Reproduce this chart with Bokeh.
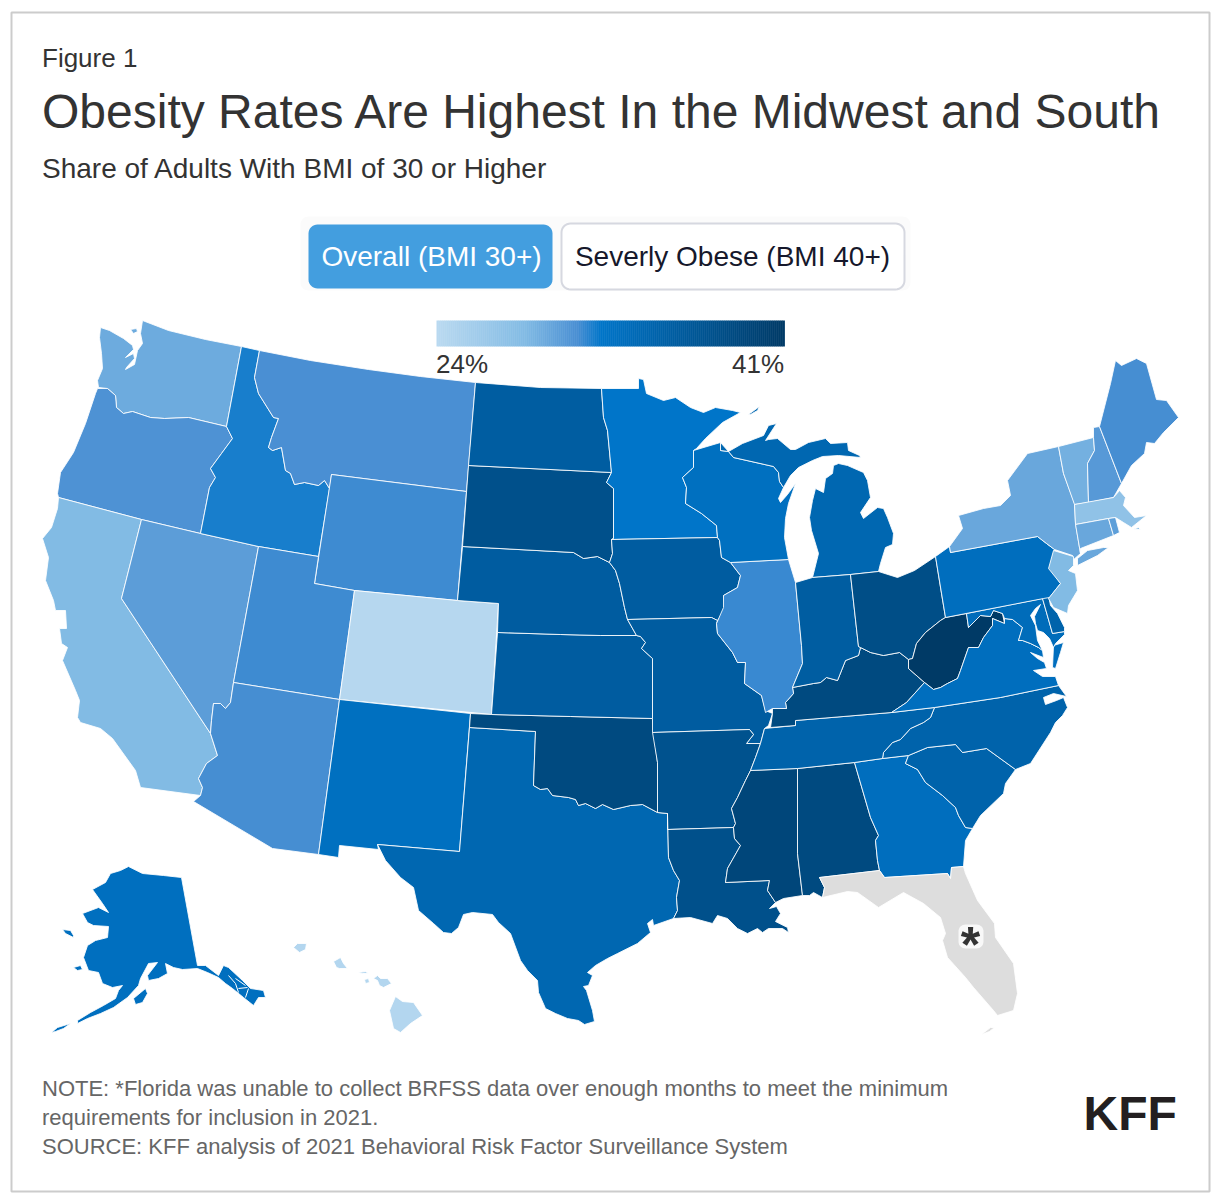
import numpy as np
from bokeh.core.properties import value
from bokeh.embed import file_html
from bokeh.models import ColumnDataSource, LinearColorMapper
from bokeh.plotting import figure
from bokeh.resources import INLINE

STATES = ["WA","OR","CA","NV","ID","MT","WY","UT","CO","AZ","NM","TX","OK","KS","NE","SD","ND","MN","IA","MO","AR","LA","MS","AL","GA","FL","SC","NC","TN","KY","IL","WI","MI","IN","OH","WV","VA","MD","DE","PA","NY","VT","NH","ME","MA","CT","RI","NJ","AK","HI"]
RATES = [29.2,30.6,28.3,30.0,31.6,30.8,31.0,31.0,24.3,30.9,32.8,34.2,38.6,35.7,35.7,37.6,35.6,32.0,35.7,35.7,37.4,37.6,39.2,38.6,33.0,None,34.7,34.7,34.7,38.6,31.1,32.8,34.2,35.6,38.0,41.0,33.0,33.4,34.7,33.0,29.4,28.9,30.2,30.9,27.2,29.4,29.9,28.3,32.9,24.5]
LEGEND_MIN, LEGEND_MAX = 24, 41
LEGEND_LABELS = ["24%", "41%"]
BUTTONS = ["Overall (BMI 30+)", "Severly Obese (BMI 40+)"]
FIGURE_LABEL = "Figure 1"
TITLE = "Obesity Rates Are Highest In the Midwest and South"
SUBTITLE = "Share of Adults With BMI of 30 or Higher"
NOTES = ["NOTE: *Florida was unable to collect BRFSS data over enough months to meet the minimum",
         "requirements for inclusion in 2021.",
         "SOURCE: KFF analysis of 2021 Behavioral Risk Factor Surveillance System"]
GRADIENT_STOPS = [(0.0,"#b9d9f0"),(0.25,"#82bbe4"),(0.40,"#4a8fd3"),(0.47,"#0075c9"),(1.0,"#003a66")]

SHAPES = {
"WA":[[(142,320),(168,330),(205,339),(241,346),(226,426),(188,417),(164,418),(150,417),(132,411),(123,413),(116,407),(115,395),(107,388),(98,387),(97,380),(102,368),(101,353),(99,337),(100,327),(109,330),(123,338),(132,345),(133,349),(125,357),(133,353),(134,358),(126,367),(125,369),(134,364),(137,350),(142,343),(140,333)],[(130,329),(136,328),(137,331),(133,333)]],
"OR":[[(97,388),(107,388),(115,395),(116,407),(123,413),(132,411),(150,417),(164,418),(188,417),(226,426),(232,438),(221,453),(210,468),(215,477),(209,487),(200,533),(141,519),(58,497),(57,493),(60,472),(73,452),(85,423),(95,393)]],
"CA":[[(58,497),(141,519),(121,598),(210,733),(217,755),(206,763),(198,778),(202,787),(200,795),(140,787),(135,770),(112,738),(100,728),(80,722),(77,717),(79,700),(75,690),(62,660),(67,647),(61,643),(59,628),(66,628),(65,610),(55,610),(53,600),(45,580),(48,557),(42,538),(51,527),(57,508)]],
"NV":[[(141,519),(200,533),(258,546),(233,682),(230,702),(225,708),(220,703),(213,703),(211,720),(210,733),(121,598)]],
"ID":[[(241,346),(259,350),(254,377),(258,393),(273,417),(278,418),(271,437),(268,447),(272,450),(281,447),(285,470),(290,473),(294,484),(304,482),(318,485),(324,480),(329,488),(318,556),(258,546),(200,533),(209,487),(215,477),(210,468),(221,453),(232,438),(226,426)]],
"MT":[[(259,350),(310,360),(368,369),(420,376),(475,382),(466,491),(331,474),(329,488),(324,480),(318,485),(304,482),(294,484),(290,473),(285,470),(281,447),(272,450),(268,447),(271,437),(278,418),(273,417),(258,393),(254,377)]],
"WY":[[(331,474),(466,491),(457,600),(354,590),(314,583)]],
"UT":[[(258,546),(318,556),(314,583),(354,590),(339,699),(233,682)]],
"CO":[[(354,590),(457,600),(498,603),(491,714),(339,699)]],
"AZ":[[(233,682),(339,699),(318,854),(272,848),(193,801),(200,795),(202,787),(198,778),(206,763),(217,755),(210,733),(211,720),(213,703),(220,703),(225,708),(230,702)]],
"NM":[[(339,699),(470,713),(459,851),(377,844),(378,849),(339,845),(338,857),(318,854)]],
"TX":[[(469,727),(535,731),(533,785),(540,789),(547,788),(552,795),(568,797),(575,799),(578,805),(585,803),(595,808),(602,804),(613,809),(630,805),(642,804),(657,812),(667,813),(668,857),(673,870),(679,880),(676,897),(677,910),(673,918),(653,925),(652,919),(647,923),(650,932),(637,943),(617,953),(607,958),(595,965),(587,972),(592,975),(588,985),(583,986),(586,990),(592,1010),(594,1021),(584,1024),(578,1020),(567,1018),(555,1013),(545,1008),(538,992),(537,980),(527,970),(520,960),(510,933),(498,922),(492,914),(472,912),(463,914),(458,927),(451,933),(443,932),(433,923),(418,910),(413,887),(400,877),(385,860),(377,844),(459,851)]],
"OK":[[(470,713),(491,714),(570,716),(652,718),(653,732),(657,762),(657,812),(642,804),(630,805),(613,809),(602,804),(595,808),(585,803),(578,805),(575,799),(568,797),(552,795),(547,788),(540,789),(533,785),(535,731),(469,727)]],
"KS":[[(497,632),(560,634),(600,635),(636,635),(640,636),(645,642),(641,648),(652,658),(652,718),(570,716),(491,714)]],
"NE":[[(462,546),(573,552),(583,558),(597,556),(609,562),(615,570),(619,583),(624,607),(627,619),(636,635),(600,635),(560,634),(497,632),(498,603),(457,600)]],
"SD":[[(468,465),(611,472),(606,482),(613,488),(613,538),(611,539),(612,553),(609,562),(597,556),(583,558),(573,552),(462,546)]],
"ND":[[(475,382),(540,387),(601,388),(603,417),(607,430),(611,472),(468,465)]],
"MN":[[(601,388),(638,388),(638,378),(643,379),(646,393),(663,400),(675,397),(690,407),(703,412),(715,407),(732,410),(740,412),(722,422),(705,438),(696,448),(693,450),(693,467),(682,477),(686,487),(685,503),(701,513),(716,525),(717,537),(611,539),(613,538),(613,488),(606,482),(611,472),(607,430),(603,417)]],
"IA":[[(611,539),(717,537),(719,540),(721,557),(730,562),(740,575),(737,587),(723,595),(725,608),(717,620),(711,617),(627,619),(624,607),(619,583),(615,570),(609,562),(612,553)]],
"MO":[[(627,619),(711,617),(717,620),(716,623),(717,633),(732,652),(737,662),(745,662),(744,683),(761,695),(765,710),(772,713),(768,725),(764,728),(760,743),(746,743),(753,734),(749,729),(652,732),(652,718),(652,658),(641,648),(645,642),(640,636),(636,635)]],
"AR":[[(652,732),(749,729),(753,734),(746,743),(760,743),(755,757),(750,770),(745,780),(737,797),(731,808),(735,823),(733,827),(667,829),(667,813),(657,812),(657,762)]],
"LA":[[(667,829),(733,827),(734,838),(740,845),(727,868),(725,882),(769,880),(767,890),(775,902),(769,908),(776,906),(780,913),(775,921),(787,927),(788,932),(782,928),(768,928),(762,932),(757,928),(747,933),(737,928),(727,918),(717,915),(712,923),(690,917),(673,918),(677,910),(676,897),(679,880),(673,870),(668,857),(667,813)]],
"MS":[[(750,770),(797,768),(797,853),(802,895),(783,898),(775,902),(767,890),(769,880),(725,882),(727,868),(740,845),(734,838),(733,827),(735,823),(731,808),(737,797),(745,780)]],
"AL":[[(797,768),(854,762),(870,817),(878,835),(875,840),(877,860),(879,870),(819,877),(824,887),(822,897),(813,892),(809,895),(802,895),(797,853)]],
"GA":[[(854,762),(882,758),(908,755),(905,763),(917,769),(925,782),(942,795),(955,807),(958,815),(965,827),(972,828),(965,840),(963,866),(951,867),(950,878),(947,873),(884,877),(879,870),(877,860),(875,840),(878,835),(870,817)]],
"FL":[[(819,877),(879,870),(884,877),(947,873),(950,878),(951,867),(963,866),(965,873),(977,900),(994,923),(995,937),(1013,963),(1017,993),(1013,1010),(997,1015),(993,1010),(973,987),(965,977),(947,957),(942,940),(945,933),(940,917),(923,903),(903,892),(878,907),(857,892),(847,891),(822,897),(824,887)],[(981,1034),(990,1027),(994,1027),(989,1031)]],
"SC":[[(905,763),(908,755),(927,747),(955,744),(962,752),(986,748),(1015,769),(1005,783),(1003,793),(980,815),(972,828),(965,827),(958,815),(955,807),(942,795),(925,782),(917,769)]],
"NC":[[(934,707),(1000,697),(1058,685),(1066,696),(1053,693),(1043,697),(1045,704),(1056,700),(1063,697),(1067,707),(1062,715),(1055,722),(1050,732),(1030,763),(1015,769),(986,748),(962,752),(955,744),(927,747),(908,755),(882,758),(883,752),(892,742),(900,739),(910,728),(923,722),(930,717)]],
"TN":[[(764,728),(795,725),(795,720),(891,712),(934,707),(930,717),(923,722),(910,728),(900,739),(892,742),(883,752),(882,758),(854,762),(797,768),(750,770),(755,757),(760,743)]],
"KY":[[(772,713),(772,708),(786,708),(785,702),(793,693),(792,687),(813,683),(820,682),(826,677),(837,680),(845,660),(858,655),(860,647),(870,652),(883,655),(899,652),(908,659),(908,668),(924,682),(906,702),(891,712),(795,720),(795,725),(770,727)]],
"IL":[[(730,562),(788,559),(795,582),(801,645),(802,663),(792,687),(793,693),(785,702),(786,708),(772,708),(765,712),(761,695),(744,683),(745,662),(737,662),(732,652),(717,633),(716,623),(723,607),(723,595),(737,587),(740,575)]],
"WI":[[(693,450),(720,442),(720,450),(728,451),(733,457),(773,466),(778,472),(779,481),(783,487),(778,498),(780,502),(787,494),(795,483),(788,503),(785,518),(784,537),(788,559),(730,562),(721,557),(719,540),(717,537),(716,525),(701,513),(685,503),(686,487),(682,477),(693,467)]],
"MI":[[(720,442),(720,450),(728,451),(742,443),(763,435),(768,425),(776,423),(765,440),(768,439),(777,438),(790,449),(795,449),(808,442),(825,438),(830,443),(847,442),(848,450),(859,455),(860,457),(838,455),(822,456),(812,460),(798,467),(790,475),(783,487),(779,481),(778,472),(773,466),(733,457),(728,451)],[(838,463),(847,465),(863,472),(867,480),(870,497),(860,512),(863,518),(877,507),(883,508),(887,517),(893,533),(892,544),(885,547),(880,563),(878,571),(850,574),(812,577),(818,553),(811,530),(809,517),(812,500),(815,488),(823,492),(825,478),(832,473),(833,465)],[(748,414),(759,406),(757,410),(750,414)]],
"IN":[[(795,582),(812,577),(850,574),(858,646),(860,647),(858,655),(845,660),(837,680),(826,677),(820,682),(813,683),(792,687),(802,663),(801,645)]],
"OH":[[(850,574),(878,571),(897,577),(914,570),(935,556),(941,593),(945,617),(940,620),(925,632),(916,643),(912,658),(908,659),(899,652),(883,655),(870,652),(860,647),(858,646)]],
"WV":[[(945,617),(966,613),(968,627),(980,615),(990,616),(993,610),(1002,613),(1004,623),(992,618),(992,625),(983,637),(978,647),(968,647),(960,670),(957,678),(947,683),(940,687),(933,689),(924,682),(908,668),(908,659),(912,658),(916,643),(925,632),(940,620)]],
"VA":[[(924,682),(933,689),(940,687),(947,683),(957,678),(960,670),(968,647),(978,647),(983,637),(992,625),(992,618),(1004,623),(1004,618),(1012,619),(1022,627),(1018,640),(1022,640),(1030,643),(1038,647),(1042,650),(1043,657),(1030,652),(1037,658),(1044,662),(1046,668),(1033,670),(1042,676),(1055,676),(1058,685),(1000,697),(934,707),(891,712),(906,702)],[(1053,645),(1052,667),(1055,668),(1060,652),(1063,642)]],
"MD":[[(966,613),(1042,598),(1052,633),(1064,631),(1064,634),(1055,643),(1053,647),(1049,638),(1043,632),(1037,630),(1035,623),(1034,616),(1040,604),(1035,608),(1030,615),(1035,625),(1037,640),(1042,650),(1038,647),(1030,643),(1022,640),(1018,640),(1022,627),(1012,619),(1004,618),(1002,613),(993,610),(990,616),(980,615),(968,627)]],
"DE":[[(1042,598),(1048,595),(1050,605),(1057,613),(1064,627),(1064,631),(1052,633)]],
"PA":[[(949,546),(950,552),(1037,536),(1046,543),(1054,549),(1049,567),(1060,583),(1049,597),(1043,598),(945,617),(935,556)]],
"NY":[[(949,546),(962,528),(958,515),(983,508),(1000,505),(1010,495),(1007,480),(1027,453),(1058,446),(1063,473),(1074,503),(1075,523),(1080,553),(1072,560),(1072,555),(1054,549),(1046,543),(1037,536),(950,552)],[(1077,565),(1077,558),(1087,550),(1103,547),(1108,547),(1097,555)]],
"VT":[[(1058,446),(1093,437),(1094,450),(1087,463),(1088,502),(1074,504),(1063,473)]],
"NH":[[(1093,427),(1099,426),(1121,483),(1113,497),(1088,502),(1087,463),(1094,450),(1093,437)]],
"ME":[[(1099,426),(1110,383),(1115,360),(1121,365),(1136,358),(1146,363),(1156,399),(1166,400),(1178,417),(1163,432),(1154,443),(1146,442),(1144,453),(1131,465),(1121,483)]],
"MA":[[(1074,504),(1113,497),(1119,490),(1125,497),(1123,505),(1134,517),(1146,515),(1131,527),(1123,522),(1115,517),(1108,518),(1075,524)],[(1132,529),(1138,527),(1140,529)]],
"CT":[[(1075,524),(1108,518),(1113,535),(1080,548),(1080,553)]],
"RI":[[(1108,518),(1115,517),(1119,532),(1113,535)]],
"NJ":[[(1053,550),(1073,556),(1073,565),(1068,570),(1075,573),(1077,590),(1068,605),(1067,613),(1053,607),(1048,598),(1060,583),(1048,568)]],
"AK":[[(128,866),(142,873),(163,875),(181,877),(197,965),(205,965),(218,975),(223,965),(228,967),(242,980),(250,988),(263,990),(265,997),(258,997),(253,1005),(243,997),(232,988),(225,983),(218,977),(207,972),(197,968),(182,969),(173,967),(165,963),(167,973),(158,978),(148,980),(147,975),(157,962),(148,963),(140,978),(138,985),(127,997),(113,1007),(100,1013),(87,1018),(77,1023),(77,1020),(90,1012),(103,1005),(115,998),(118,990),(122,985),(112,987),(102,983),(98,972),(88,970),(83,957),(87,945),(95,940),(107,937),(108,926),(93,925),(87,922),(82,913),(98,907),(108,912),(102,903),(92,889),(105,882),(110,873),(120,870)],[(62,929),(70,930),(73,935),(73,937),(65,933)],[(73,967),(80,965),(82,969),(77,970)],[(133,998),(145,988),(147,993),(142,1002),(135,1004)],[(51,1032),(57,1027),(70,1023),(63,1028),(55,1031)]],
"HI":[[(293,947),(297,943),(306,943),(305,949),(299,952)],[(333,961),(340,957),(343,963),(347,968),(339,968),(336,967)],[(357,972),(365,971),(368,973),(362,973)],[(364,979),(368,978),(369,982),(365,983)],[(373,978),(377,975),(380,978),(387,978),(391,983),(383,987),(379,985),(377,980)],[(395,996),(402,1001),(413,1002),(422,1015),(410,1023),(400,1032),(393,1028),(389,1010)]],
}
ALASKA_CHANNELS = [[(228,975),(235,983),(238,992)],[(235,978),(245,985)],[(238,988),(247,987)],[(248,988),(245,997)]]


def hex_rgb(h):
    return tuple(int(h[i:i + 2], 16) for i in (1, 3, 5))


def build_palette(n=256):
    ts = [s[0] for s in GRADIENT_STOPS]
    cs = np.array([hex_rgb(s[1]) for s in GRADIENT_STOPS], float)
    out = []
    for t in np.linspace(0, 1, n):
        r, g, b = (np.interp(t, ts, cs[:, k]) for k in range(3))
        out.append("#%02x%02x%02x" % (round(r), round(g), round(b)))
    return out


def rounded(l, t, r, b, rad):
    xs, ys = [], []
    for cx, cy, a0 in [(r - rad, t + rad, -90), (r - rad, b - rad, 0), (l + rad, b - rad, 90), (l + rad, t + rad, 180)]:
        for a in np.radians(np.linspace(a0, a0 + 90, 9)):
            xs.append(cx + rad * np.cos(a))
            ys.append(cy + rad * np.sin(a))
    return xs, ys


mapper = LinearColorMapper(palette=build_palette(), low=LEGEND_MIN, high=LEGEND_MAX, nan_color="#dddddd")

p = figure(width=1220, height=1202, x_range=(0, 1220), y_range=(1202, 0), toolbar_location=None,
           output_backend="svg", min_border=0, outline_line_color=None)
p.axis.visible = False
p.grid.visible = False
p.background_fill_color = "#ffffff"
p.border_fill_color = "#ffffff"

FONT = value("Liberation Sans")
BASELINE_SHIFT = 0.38


def label(x, y, t, size, color="#333333", align="left", style="normal"):
    p.text([x], [y - BASELINE_SHIFT * size], text=[t], text_font=FONT, text_font_size=f"{size}px", text_color=color,
           text_align=align, text_baseline="alphabetic", text_font_style=style)


# frame
p.quad(left=[11], right=[1209], top=[12], bottom=[1191], fill_color=None, line_color="#cccccc", line_width=2)

# header
label(41.5, 67, FIGURE_LABEL, 26)
label(41.5, 129, TITLE, 48)
label(41.5, 179, SUBTITLE, 28)

# buttons
xs, ys = rounded(300, 216, 910, 290, 8)
p.patch(xs, ys, fill_color="#fbfbfb", line_color=None)
xs, ys = rounded(308, 224, 552, 288, 9)
p.patch(xs, ys, fill_color="#439edf", line_color=None)
xs, ys = rounded(561, 223, 904, 289, 9)
p.patch(xs, ys, fill_color="#ffffff", line_color="#d6d8e0", line_width=2)
label(431, 267, BUTTONS[0], 28, "#ffffff", "center")
label(732, 267, BUTTONS[1], 28, "#16182b", "center")

# map
rows_x, rows_y, rates = [], [], []
for st, rate in zip(STATES, RATES):
    x, y = [], []
    for ring in SHAPES[st]:
        x += [pt[0] for pt in ring] + [np.nan]
        y += [pt[1] for pt in ring] + [np.nan]
    rows_x.append(x[:-1])
    rows_y.append(y[:-1])
    rates.append(np.nan if rate is None else rate)
src = ColumnDataSource(dict(xs=rows_x, ys=rows_y, rate=rates, state=STATES))
p.patches("xs", "ys", source=src, fill_color={"field": "rate", "transform": mapper},
          line_color="#ffffff", line_width=1, line_alpha=0.85)
p.multi_line([[q[0] for q in c] for c in ALASKA_CHANNELS], [[q[1] for q in c] for c in ALASKA_CHANNELS],
             line_color="#ffffff", line_width=1)

# Florida marker
xs, ys = rounded(958, 924, 983, 948, 7)
p.patch(xs, ys, fill_color="#f8f8f8", line_color=None)
label(970, 963, "*", 50, "#333333", "center", "bold")

# gradient legend
leg_v = np.linspace(LEGEND_MIN, LEGEND_MAX, 175)
leg_x = 436 + (leg_v - LEGEND_MIN) / (LEGEND_MAX - LEGEND_MIN) * 348
dx = leg_x[1] - leg_x[0]
leg_src = ColumnDataSource(dict(l=leg_x[:-1], r=leg_x[:-1] + dx + 0.4, v=leg_v[:-1]))
p.quad(left="l", right="r", top=320, bottom=346, source=leg_src,
       fill_color={"field": "v", "transform": mapper}, line_color=None)
label(435.5, 373, LEGEND_LABELS[0], 26)
label(783.5, 373, LEGEND_LABELS[1], 26, "#333333", "right")

# notes
label(41.5, 1096, NOTES[0], 22, "#666666")
label(41.5, 1125, NOTES[1], 22, "#666666")
label(41.5, 1154, NOTES[2], 22, "#666666")
label(1083, 1131, "KFF", 48, "#231f20", "left", "bold")

open("out.html", "w").write(file_html(p, INLINE))
